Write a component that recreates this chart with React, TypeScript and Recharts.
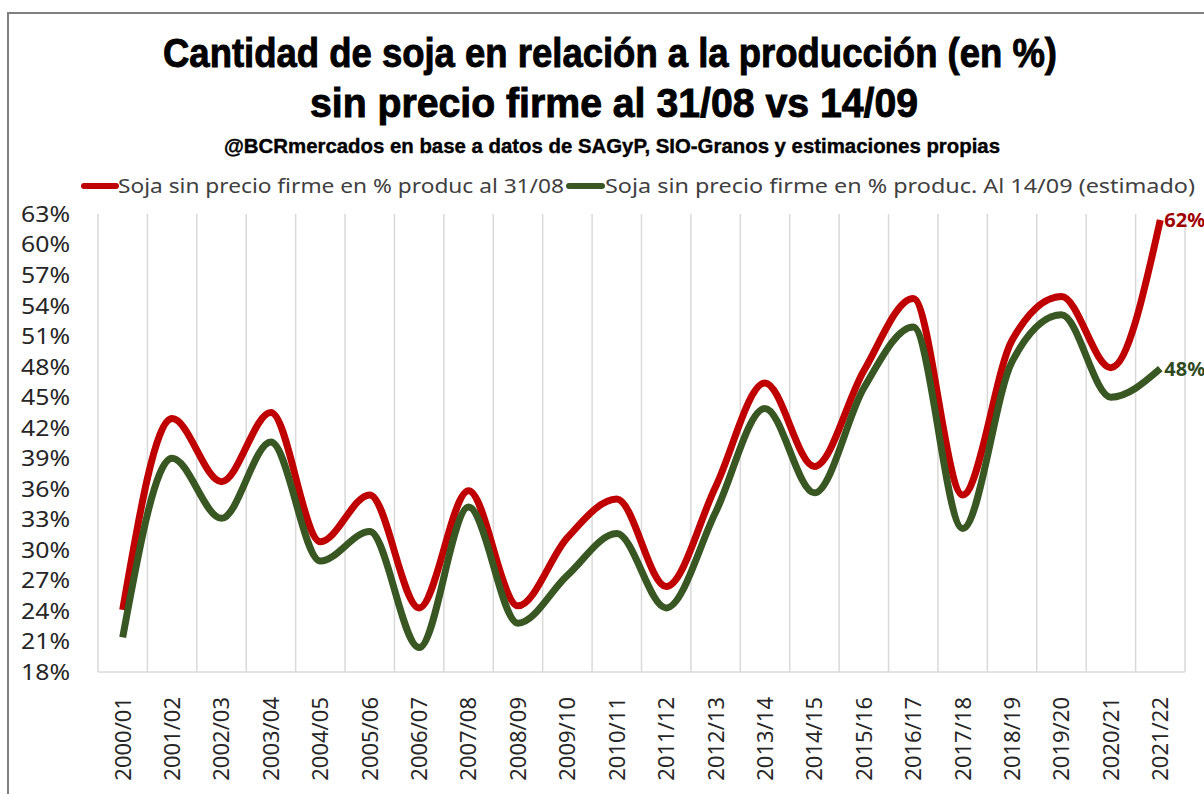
import React from "react";
import {
  LineChart,
  Line,
  XAxis,
  YAxis,
  ReferenceLine,
  LabelList,
} from "recharts";

const seasons = [
  "2000/01", "2001/02", "2002/03", "2003/04", "2004/05", "2005/06",
  "2006/07", "2007/08", "2008/09", "2009/10", "2010/11", "2011/12",
  "2012/13", "2013/14", "2014/15", "2015/16", "2016/17", "2017/18",
  "2018/19", "2019/20", "2020/21", "2021/22",
];

// % de la producción sin precio firme al 31/08
const al3108 = [
  24.1, 42.9, 36.7, 43.5, 30.8, 35.4, 24.3, 35.8, 24.5, 31.2, 35.0,
  26.4, 36.2, 46.4, 38.2, 47.6, 54.7, 35.4, 50.6, 54.9, 47.9, 62.4,
];

// % de la producción sin precio firme al 14/09 (estimado)
const al1409 = [
  21.4, 39.0, 33.1, 40.6, 28.9, 31.8, 20.4, 34.2, 22.8, 27.5, 31.6,
  24.3, 33.7, 43.9, 35.6, 45.9, 51.9, 32.1, 48.5, 53.1, 45.0, 47.8,
];

const yTicks = [18, 21, 24, 27, 30, 33, 36, 39, 42, 45, 48, 51, 54, 57, 60, 63];

const seriesNames = [
  "Soja sin precio firme en % produc al 31/08",
  "Soja sin precio firme en % produc. Al 14/09 (estimado)",
];

const titleLines = [
  "Cantidad de soja en relación a la producción (en %)",
  "sin precio firme al 31/08 vs 14/09",
];
const subtitle =
  "@BCRmercados en base a datos de SAGyP, SIO-Granos y estimaciones propias";

const RED = "#c00000";
const GREEN = "#385723";

const data = seasons.map((s, i) => ({
  idx: i,
  season: s,
  a: al3108[i],
  b: al1409[i],
}));

const head = "'Liberation Sans', Arial, sans-serif";
const body = "'Noto Sans', 'Open Sans', sans-serif";

const SeasonTick = (props: any) => {
  const { x, y, payload } = props;
  const ty = y + 17;
  return (
    <text
      x={x}
      y={ty}
      transform={`rotate(-90, ${x}, ${ty})`}
      textAnchor="end"
      dy="0.36em"
      fontSize={22}
      fontFamily={body}
      fill="#262626"
    >
      {seasons[payload.value]}
    </text>
  );
};

const PctTick = (props: any) => {
  const { x, y, payload } = props;
  return (
    <text
      x={x}
      y={y}
      dy="0.36em"
      textAnchor="end"
      fontSize={22}
      fontFamily={body}
      fill="#262626"
      textLength={49}
      lengthAdjust="spacingAndGlyphs"
    >
      {`${payload.value}%`}
    </text>
  );
};

const endLabel = (color: string) => (props: any) => {
  const { x, y, value, index } = props;
  if (index !== seasons.length - 1) return null;
  return (
    <text
      x={x + 4}
      y={y}
      dy="0.36em"
      fontSize={20}
      fontWeight="bold"
      fontFamily={body}
      fill={color}
    >
      {`${Math.round(value)}%`}
    </text>
  );
};

// title, subtitle and legend, drawn over the chart
const Header = () => (
  <svg
    width={1204}
    height={210}
    style={{ position: "absolute", left: 0, top: 0, pointerEvents: "none" }}
  >
    <g fontFamily={head} fontWeight="bold" fill="#000" stroke="#000">
      <text x={163} y={67} fontSize={40} strokeWidth={0.9} textLength={894} lengthAdjust="spacingAndGlyphs">
        {titleLines[0]}
      </text>
      <text x={310} y={117} fontSize={40} strokeWidth={0.9} textLength={608} lengthAdjust="spacingAndGlyphs">
        {titleLines[1]}
      </text>
      <text x={224} y={153} fontSize={21} strokeWidth={0.4} textLength={776} lengthAdjust="spacingAndGlyphs">
        {subtitle}
      </text>
    </g>
    <g fontFamily={body} fontSize={20} fill="#404040">
      <line x1={84} x2={116} y1={186} y2={186} stroke={RED} strokeWidth={6} strokeLinecap="round" />
      <text x={118} y={193} textLength={446} lengthAdjust="spacingAndGlyphs">
        {seriesNames[0]}
      </text>
      <line x1={569} x2={602} y1={186} y2={186} stroke={GREEN} strokeWidth={6} strokeLinecap="round" />
      <text x={605} y={193} textLength={590} lengthAdjust="spacingAndGlyphs">
        {seriesNames[1]}
      </text>
    </g>
  </svg>
);

export default function App() {
  return (
    <div
      style={{
        position: "absolute",
        left: 0,
        top: 0,
        width: 1204,
        height: 794,
        background: "#fff",
        overflow: "hidden",
      }}
    >
      <div
        style={{
          position: "absolute",
          left: 7,
          top: 12,
          width: 1300,
          height: 900,
          borderLeft: "2px solid #7f7f7f",
          borderTop: "2px solid #7f7f7f",
        }}
      />
      <LineChart
        width={1204}
        height={794}
        data={data}
        margin={{ top: 214, right: 19, bottom: 0, left: 0 }}
      >
        {Array.from({ length: seasons.length + 1 }, (_, i) => (
          <ReferenceLine
            key={i}
            x={i - 0.5}
            stroke="#d9d9d9"
            strokeWidth={1.5}
          />
        ))}
        <XAxis
          dataKey="idx"
          type="number"
          domain={[-0.5, seasons.length - 0.5]}
          ticks={seasons.map((_, i) => i)}
          interval={0}
          height={122}
          tickLine={false}
          axisLine={{ stroke: "#d9d9d9", strokeWidth: 1.5 }}
          tick={<SeasonTick />}
        />
        <YAxis
          width={98}
          domain={[18, 63]}
          ticks={yTicks}
          interval={0}
          axisLine={false}
          tickLine={false}
          tickSize={0}
          tickMargin={28}
          tick={<PctTick />}
        />
        <Line
          name={seriesNames[0]}
          dataKey="a"
          type="monotone"
          stroke={RED}
          strokeWidth={7}
          dot={false}
          isAnimationActive={false}
        >
          <LabelList dataKey="a" content={endLabel("#a00000")} />
        </Line>
        <Line
          name={seriesNames[1]}
          dataKey="b"
          type="monotone"
          stroke={GREEN}
          strokeWidth={7}
          dot={false}
          isAnimationActive={false}
        >
          <LabelList dataKey="b" content={endLabel("#2f4a1e")} />
        </Line>
      </LineChart>
      <Header />
    </div>
  );
}
